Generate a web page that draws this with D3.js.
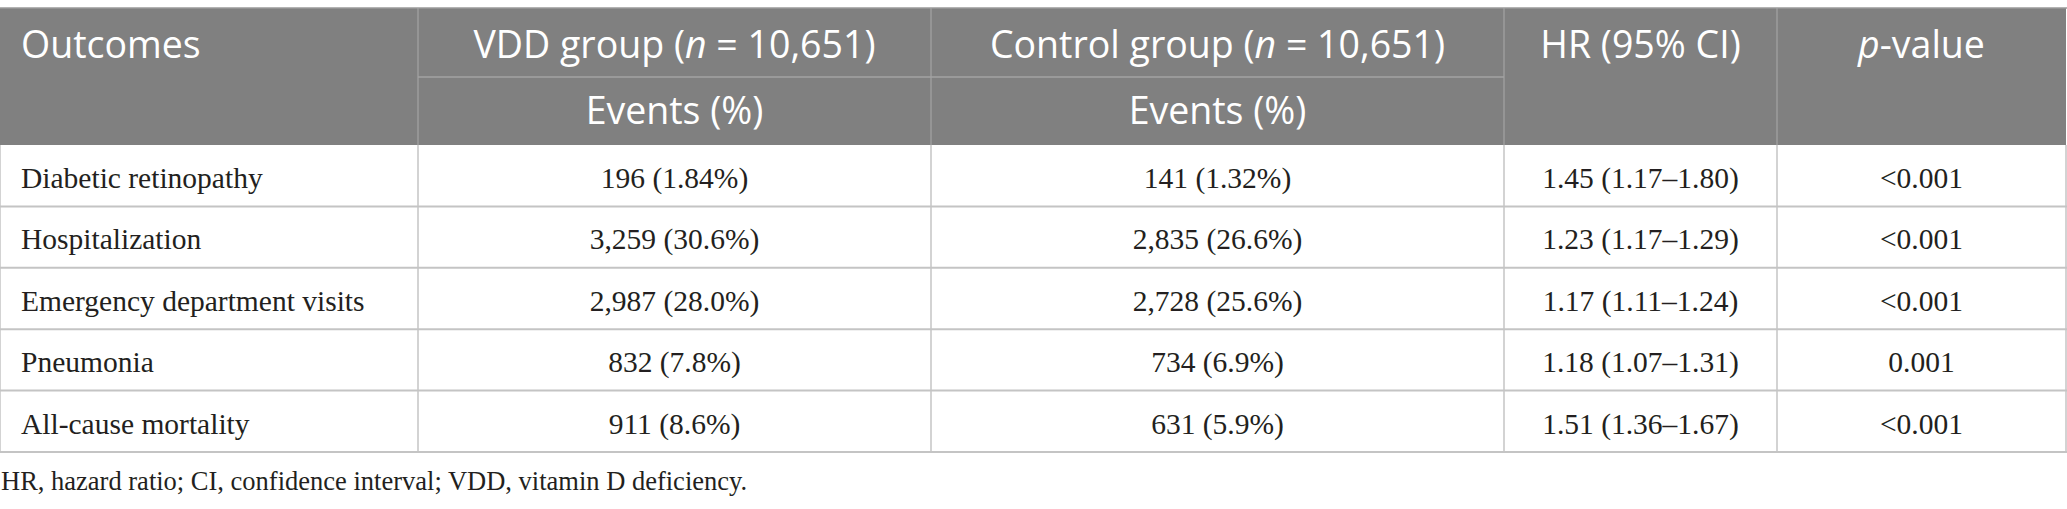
<!DOCTYPE html>
<html>
<head>
<meta charset="utf-8">
<script src="https://cdn.jsdelivr.net/npm/d3@7"></script>
<style>
  html, body { margin: 0; padding: 0; background: #fff; }
  svg { display: block; }
</style>
</head>
<body>
<svg id="chart" width="2067" height="509"></svg>
<script>
// ---- Data ----
const outcomes = ["Diabetic retinopathy", "Hospitalization", "Emergency department visits", "Pneumonia", "All-cause mortality"];
const vddEvents = ["196 (1.84%)", "3,259 (30.6%)", "2,987 (28.0%)", "832 (7.8%)", "911 (8.6%)"];
const controlEvents = ["141 (1.32%)", "2,835 (26.6%)", "2,728 (25.6%)", "734 (6.9%)", "631 (5.9%)"];
const hrCI = ["1.45 (1.17–1.80)", "1.23 (1.17–1.29)", "1.17 (1.11–1.24)", "1.18 (1.07–1.31)", "1.51 (1.36–1.67)"];
const pValues = ["<0.001", "<0.001", "<0.001", "0.001", "<0.001"];
const headerLabels = [
  [{t: "Outcomes"}],
  [{t: "VDD group ("}, {t: "n", i: true}, {t: " = 10,651)"}],
  [{t: "Control group ("}, {t: "n", i: true}, {t: " = 10,651)"}],
  [{t: "HR (95% CI)"}],
  [{t: "p", i: true}, {t: "-value"}]
];
const subHeader = "Events (%)";
const footnote = "HR, hazard ratio; CI, confidence interval; VDD, vitamin D deficiency.";

// ---- Layout ----
const colEdges = [0, 418, 931, 1504, 1777, 2066];
const headTop = 8, headMid = 77, headBottom = 145, tableBottom = 452;
const headFill = "#808080", lineCol = "#c4c4c4", headLine = "#a3a3a3";
const headFont = "'Open Sans', 'Noto Sans', sans-serif";
const bodyFont = "'Liberation Serif', 'DejaVu Serif', serif";
const padL = 21;

const svg = d3.select("#chart");
const y = d3.scaleBand().domain(outcomes).range([headBottom, tableBottom]);
const colIdx = d3.range(5);
const xc = i => (colEdges[i] + colEdges[i + 1]) / 2;

// header background
svg.append("rect").attr("x", 0).attr("y", headTop).attr("width", colEdges[5]).attr("height", headBottom - headTop)
  .attr("fill", headFill);
svg.append("line").attr("x1", 0).attr("x2", colEdges[5] + 1).attr("y1", headTop).attr("y2", headTop)
  .attr("stroke", "#9a9a9a").attr("stroke-width", 1.5);

// header vertical dividers
svg.selectAll("line.hv").data([1, 2, 3, 4]).join("line").attr("class", "hv")
  .attr("x1", i => colEdges[i]).attr("x2", i => colEdges[i])
  .attr("y1", headTop).attr("y2", headBottom)
  .attr("stroke", headLine).attr("stroke-width", 1.2);
// sub header divider under group columns
svg.append("line").attr("x1", colEdges[1]).attr("x2", colEdges[3]).attr("y1", headMid).attr("y2", headMid)
  .attr("stroke", headLine).attr("stroke-width", 1.5);

// header labels
headerLabels.forEach((parts, i) => {
  const t = svg.append("text")
    .attr("x", i === 0 ? padL : xc(i)).attr("y", 58)
    .attr("text-anchor", i === 0 ? "start" : "middle")
    .attr("font-family", headFont).attr("font-size", 37.5).attr("fill", "#fff");
  parts.forEach(p => t.append("tspan").text(p.t).attr("font-style", p.i ? "italic" : null));
});
[1, 2].forEach(i => {
  svg.append("text").attr("x", xc(i)).attr("y", 124).attr("text-anchor", "middle")
    .attr("font-family", headFont).attr("font-size", 37.5).attr("fill", "#fff").text(subHeader);
});

// body
const rows = outcomes.map((o, k) => [o, vddEvents[k], controlEvents[k], hrCI[k], pValues[k]]);
const g = svg.append("g");
g.selectAll("line.rl").data(outcomes).join("line").attr("class", "rl")
  .attr("x1", 0).attr("x2", colEdges[5] + 1)
  .attr("y1", d => y(d) + y.bandwidth()).attr("y2", d => y(d) + y.bandwidth())
  .attr("stroke", lineCol).attr("stroke-width", 2);
g.selectAll("line.vl").data([0, 1, 2, 3, 4, 5]).join("line").attr("class", "vl")
  .attr("x1", i => colEdges[i]).attr("x2", i => colEdges[i])
  .attr("y1", headBottom).attr("y2", tableBottom)
  .attr("stroke", lineCol).attr("stroke-width", 1.5);

rows.forEach((r, k) => {
  colIdx.forEach(i => {
    g.append("text")
      .attr("x", i === 0 ? padL : xc(i))
      .attr("y", y(outcomes[k]) + 43)
      .attr("text-anchor", i === 0 ? "start" : "middle")
      .attr("font-family", bodyFont).attr("font-size", 29.5).attr("fill", "#231f20")
      .text(r[i]);
  });
});

svg.append("text").attr("x", 1).attr("y", 490)
  .attr("font-family", bodyFont).attr("font-size", 26.5).attr("fill", "#231f20")
  .text(footnote);
</script>
</body>
</html>
